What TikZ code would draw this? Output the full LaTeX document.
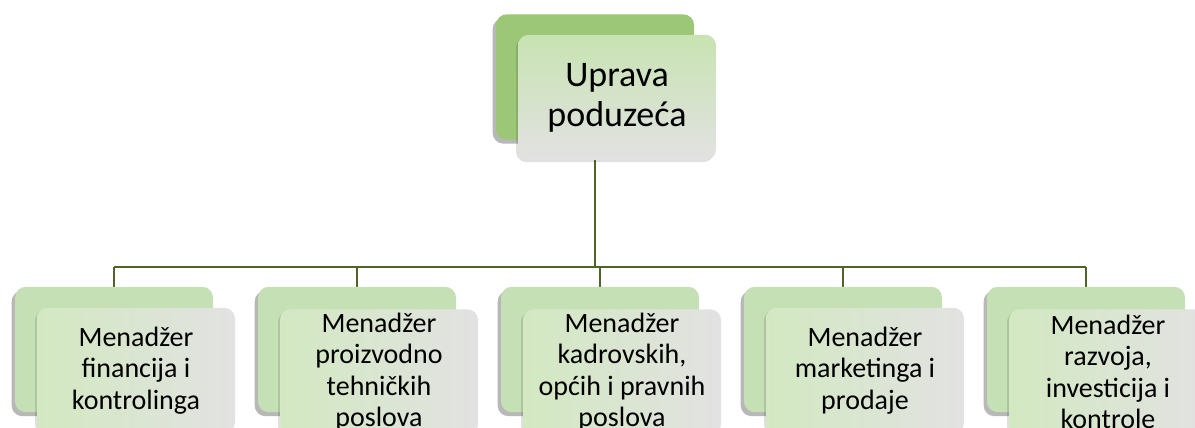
\documentclass[tikz,border=0pt]{standalone}
\usepackage{fontspec}
\setmainfont{Carlito}
\usepackage{tikz}
\usetikzlibrary{positioning, shadows, backgrounds, calc}

\definecolor{upravagreen}{RGB}{155,199,119}
\definecolor{menadzgreen}{RGB}{197,224,180}
\definecolor{shadegreen}{RGB}{200,227,178}
\definecolor{shadegray}{RGB}{226,226,226}
\definecolor{connline}{RGB}{79,98,40}

\begin{document}
\begin{tikzpicture}[
  x=0.75pt, y=-0.75pt,
  backbox/.style={rectangle, rounded corners=8pt, minimum width=148.5pt, minimum height=94pt, inner sep=0pt,
    drop shadow={shadow xshift=-2.5pt, shadow yshift=-3pt, opacity=0.28, fill=black}},
  frontbox/.style={rectangle, rounded corners=8pt, minimum width=148.5pt, minimum height=94pt, inner sep=0pt, align=center,
    drop shadow={shadow xshift=-1.5pt, shadow yshift=-1.5pt, opacity=0.12, fill=black}},
  topfront/.style={frontbox, top color=shadegreen, middle color=white, bottom color=shadegray,
    font=\fontsize{27}{30}\selectfont},
  childfront/.style={frontbox, left color=shadegreen!80, middle color=white, right color=shadegray,
    font=\fontsize{21}{23.6}\selectfont},
  conn/.style={draw=connline, line width=1.8pt}
]
\clip (0,0) rectangle (1195,428);

% Top level
\node[backbox, fill=upravagreen] (upravaback) at (595,77) {};
\node[topfront] (uprava) at (617,97.5) {Uprava\\poduzeća};

% Second level
\node[backbox, fill=menadzgreen] (finback) at (114,349.5) {};
\node[childfront] (fin) at (136,370.5) {Menadžer\\financija i\\kontrolinga};

\node[backbox, fill=menadzgreen] (proback) at (357,349.5) {};
\node[childfront] (pro) at (379,372) {Menadžer\\proizvodno\\tehničkih\\poslova};

\node[backbox, fill=menadzgreen] (kadback) at (600,349.5) {};
\node[childfront] (kad) at (622,372) {Menadžer\\kadrovskih,\\općih i pravnih\\poslova};

\node[backbox, fill=menadzgreen] (marback) at (843,349.5) {};
\node[childfront] (mar) at (865,370.5) {Menadžer\\marketinga i\\prodaje};

\node[backbox, fill=menadzgreen] (razback) at (1086,349.5) {};
\node[childfront] (raz) at (1108,372) {Menadžer\\razvoja,\\investicija i\\kontrole};

% Connectors
\coordinate (bus) at (595,267);
\begin{scope}[on background layer]
\draw[conn] (upravaback.south) -- (bus);
\draw[conn] (bus -| finback.north) -- (bus -| razback.north);
\draw[conn] (bus -| finback.north) -- (finback.north);
\draw[conn] (bus -| proback.north) -- (proback.north);
\draw[conn] (bus -| kadback.north) -- (kadback.north);
\draw[conn] (bus -| marback.north) -- (marback.north);
\draw[conn] (bus -| razback.north) -- (razback.north);
\end{scope}

\end{tikzpicture}
\end{document}
